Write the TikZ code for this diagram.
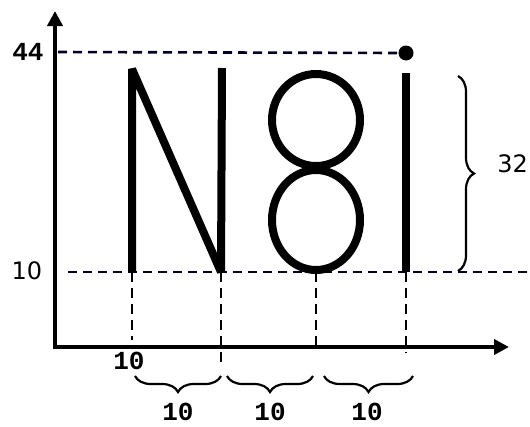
\documentclass[tikz,border=0pt]{standalone}
\usepackage{fontspec}
\setmainfont{DejaVu Sans}
\newfontfamily\monofont{Liberation Mono}
\usetikzlibrary{arrows.meta,decorations.pathreplacing}
\begin{document}
\begin{tikzpicture}[x=1pt,y=-1pt,
  axis/.style={line width=4.5pt,-{Triangle[length=15pt,width=15pt]}},
  hdash/.style={line width=2.6pt,dash pattern=on 9pt off 6pt,draw=black!85!blue},
  vdash/.style={line width=1.8pt,dash pattern=on 10pt off 6pt},
  glyph/.style={line width=8pt},
  bracestyle/.style={line width=2.2pt,decorate,decoration={brace,amplitude=16pt}},
  sanslab/.style={font=\fontsize{24}{24}\selectfont,inner sep=0pt},
  monolab/.style={font=\monofont\bfseries\fontsize{26}{26}\selectfont,inner sep=0pt}]
\useasboundingbox (0,0) rectangle (530,426);
% axes
\coordinate (ytop) at (55,11);
\coordinate (xend) at (509,347);
\draw[axis] (55,349) -- (ytop);
\draw[axis] (53,347) -- (xend);
% key points
\coordinate (h44s) at (58,52);
\coordinate (h10s) at (68,272);
\coordinate (h10e) at (530,272);
\coordinate (Nbl) at (132,272);
\coordinate (Ntl) at (132,69);
\coordinate (Nbr) at (221,272);
\coordinate (Ntr) at (222,68);
\coordinate (Eb) at (316,272);
\coordinate (Ib) at (406,272);
\coordinate (It) at (406,73);
\node[circle,fill=black,inner sep=0pt,minimum size=15pt] (dot) at (406,53) {};
% dashed guides
\draw[hdash] (h44s) -- (dot.west);
\draw[hdash] (h10s) -- (h10e);
\coordinate (v1) at (132,340);
\coordinate (v2) at (221,362);
\coordinate (v3) at (316,347);
\coordinate (v4) at (406,353);
\draw[vdash] (Nbl) -- (v1);
\draw[vdash] (Nbr) -- (v2);
\draw[vdash] (Eb) -- (v3);
\draw[vdash] (Ib) -- (v4);
% glyphs
\draw[glyph,line join=bevel] (Nbl) -- (Ntl) -- (Nbr) -- (Ntr);
\draw[glyph] (316,120) ellipse [x radius=44pt,y radius=46pt];
\draw[glyph] (316,220) ellipse [x radius=44pt,y radius=50pt];
\draw[glyph] (Ib) -- (It);
% braces
\draw[bracestyle] (458,76) -- (458,271);
\draw[bracestyle] (221,376) -- (135,376);
\draw[bracestyle] (313,376) -- (227,376);
\draw[bracestyle] (413,376) -- (324,376);
% labels
\node[monolab] (l44) at (28,52) {44};
\node[sanslab] (l10y) at (27,271) {10};
\node[sanslab,anchor=east] (l32) at (528,164) {32};
\node[monolab] (l10x) at (129,361) {10};
\node[monolab] (b1) at (178,412) {10};
\node[monolab] (b2) at (270,412) {10};
\node[monolab] (b3) at (367,412) {10};
\end{tikzpicture}
\end{document}
